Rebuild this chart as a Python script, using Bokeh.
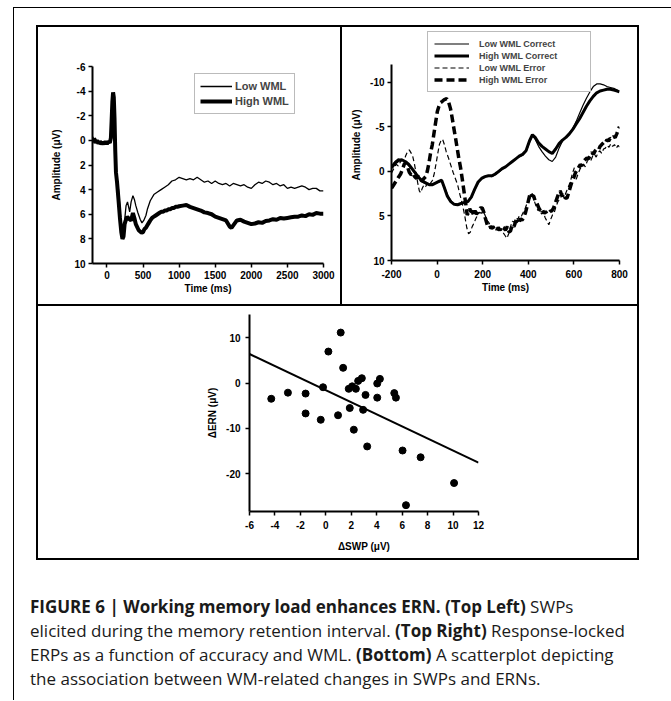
from bokeh.plotting import figure
from bokeh.models import (Range1d, FixedTicker, Legend, LegendItem, Div, Spacer,
                          PrintfTickFormatter, Title)
from bokeh.layouts import column, row
from bokeh.embed import file_html
from bokeh.resources import INLINE

# ---------------- data: top-left (SWPs, stimulus-locked) ----------------
tl_low_t = [-200, -180, -160, -140, -120, -100, -80, -60, -40, -20, 0, 20, 40, 55, 65, 75, 85, 95, 105, 115,
            125, 140, 160, 180, 200, 215, 230, 245, 265, 285, 300, 315, 335, 360, 380, 400, 430, 460, 485, 510,
            540, 560, 600, 650, 700, 750, 800, 850, 900, 950, 1000, 1050, 1100, 1150, 1200, 1250, 1300, 1350,
            1400, 1450, 1500, 1550, 1600, 1650, 1700, 1750, 1800, 1850, 1900, 1950, 2000, 2050, 2100, 2150,
            2200, 2250, 2300, 2350, 2400, 2450, 2500, 2550, 2600, 2650, 2700, 2750, 2800, 2850, 2900, 2950, 3000]
tl_low_v = [-0.3, -0.1, -0.2, 0.1, 0.0, 0.15, 0.05, 0.2, 0.1, 0.25, 0.1, 0.2, 0.0, -0.3, -1.5, -3.0, -3.8, -3.6, -2.0, 0.5,
            2.2, 3.0, 4.0, 5.5, 7.0, 7.8, 7.7, 6.5, 5.3, 5.0, 5.4, 5.8, 5.0, 4.5, 4.8, 5.3, 5.9, 6.4, 6.7, 6.5,
            6.1, 5.6, 4.9, 4.4, 4.2, 4.0, 3.8, 3.6, 3.3, 3.2, 3.0, 3.1, 3.2, 3.1, 3.2, 3.0, 3.2, 3.4,
            3.3, 3.5, 3.3, 3.5, 3.6, 3.5, 3.7, 3.5, 3.6, 3.7, 3.6, 3.8, 3.9, 3.6, 3.4, 3.5,
            3.3, 3.4, 3.6, 3.5, 3.7, 3.6, 3.9, 3.8, 3.9, 3.8, 3.7, 3.8, 4.0, 3.9, 3.9, 4.1, 4.1]
tl_high_t = [-200, -180, -160, -140, -120, -100, -80, -60, -40, -20, 0, 20, 40, 55, 65, 75, 85, 95, 105, 115,
             125, 140, 160, 180, 200, 215, 230, 245, 260, 280, 310, 335, 360, 380, 400, 440, 480, 500, 520, 540,
             560, 580, 600, 625, 650, 675, 700, 725, 750, 775, 800, 825, 850, 875, 900, 925, 950, 975, 1000,
             1050, 1100, 1150, 1200, 1250, 1300, 1350, 1400, 1450, 1500, 1550, 1600, 1650, 1700, 1725, 1750,
             1800, 1850, 1900, 1950, 2000, 2050, 2100, 2150, 2200, 2250, 2300, 2350, 2400, 2450, 2500, 2550,
             2600, 2650, 2700, 2750, 2800, 2850, 2900, 2950, 3000]
tl_high_v = [0.1, -0.1, 0.2, 0.0, 0.25, 0.1, 0.3, 0.15, 0.3, 0.1, 0.3, 0.1, 0.2, -0.2, -1.6, -3.1, -3.9, -3.5, -1.8, 0.8,
             2.6, 3.4, 4.8, 6.3, 7.5, 8.0, 7.8, 6.8, 6.5, 6.2, 6.4, 6.5, 5.9, 6.3, 6.8, 7.3, 7.5, 7.45, 7.2, 7.1,
             6.9, 6.7, 6.5, 6.3, 6.2, 6.1, 6.0, 5.9, 5.8, 5.8, 5.7, 5.7, 5.6, 5.6, 5.5, 5.5, 5.4, 5.4, 5.35,
             5.3, 5.25, 5.4, 5.5, 5.6, 5.7, 5.85, 5.9, 6.0, 6.2, 6.3, 6.4, 6.5, 7.0, 7.1, 6.9,
             6.5, 6.45, 6.6, 6.7, 6.8, 6.75, 6.65, 6.7, 6.55, 6.5, 6.4, 6.45, 6.3, 6.35, 6.3, 6.25,
             6.2, 6.2, 6.1, 6.15, 6.0, 6.05, 5.9, 5.95, 5.95]

# ---------------- data: top-right (response-locked ERPs) ----------------
tr_c_t = [-200, -185, -170, -155, -140, -125, -110, -95, -80, -65, -50, -35, -20, -5, 10, 20, 30, 45, 60, 75,
          90, 105, 120, 135, 150, 165, 180, 195, 210, 225, 240, 255, 270, 285, 300, 315, 330, 345, 360, 375,
          390, 405, 418, 430, 445, 460, 475, 490, 505, 520, 535, 550, 565, 580, 595, 610, 625, 640, 655, 670,
          685, 700, 715, 730, 745, 760, 775, 790, 800]
tr_low_correct = [-0.6, -1.1, -1.4, -1.3, -1.0, -0.6, -0.2, 0.3, 0.8, 1.2, 1.4, 1.5, 1.4, 1.3, 1.2, 1.1, 1.6, 2.6, 3.3, 3.7,
                  3.8, 3.7, 3.5, 3.4, 3.0, 2.1, 1.3, 0.8, 0.6, 0.5, 0.6, 0.4, 0.1, -0.2, -0.5, -0.8, -1.1, -1.4, -1.6, -1.8,
                  -2.2, -3.2, -4.0, -3.6, -2.8, -2.2, -1.7, -1.3, -1.1, -1.6, -2.6, -3.4, -3.9, -4.3, -4.8, -5.6, -6.5, -7.4, -8.2, -8.9,
                  -9.5, -9.8, -9.8, -9.7, -9.5, -9.4, -9.3, -9.1, -9.0]
tr_high_correct = [-0.4, -0.9, -1.2, -1.3, -1.1, -0.8, -0.3, 0.2, 0.7, 1.1, 1.3, 1.5, 1.5, 1.3, 1.1, 1.0, 1.7, 2.8, 3.4, 3.7,
                   3.75, 3.6, 3.5, 3.4, 2.9, 2.0, 1.2, 0.8, 0.6, 0.5, 0.5, 0.3, 0.0, -0.3, -0.5, -0.8, -1.1, -1.4, -1.7, -1.9,
                   -2.3, -3.4, -4.1, -3.8, -3.2, -2.8, -2.5, -2.2, -2.0, -2.5, -3.1, -3.5, -3.8, -4.2, -4.7, -5.3, -5.9, -6.6, -7.3, -7.9,
                   -8.4, -8.8, -9.0, -9.1, -9.2, -9.2, -9.1, -9.0, -8.9]
tr_le_t = [-200, -190, -180, -170, -160, -150, -140, -130, -122, -115, -108, -100, -92, -85, -78, -72, -65, -57, -50, -43,
           -35, -28, -20, -12, -5, 3, 10, 18, 24, 32, 40, 50, 60, 70, 80, 90, 100, 110, 120, 130,
           138, 146, 154, 162, 170, 178, 186, 194, 202, 210, 218, 226, 234, 242, 250, 258, 266, 274, 282, 290,
           298, 306, 314, 322, 330, 338, 346, 354, 362, 370, 378, 386, 394, 402, 410, 418, 426, 434, 442, 450,
           458, 466, 474, 482, 490, 498, 506, 514, 522, 530, 538, 546, 554, 562, 570, 578, 586, 594, 602, 610,
           618, 626, 634, 642, 650, 658, 666, 674, 682, 690, 698, 706, 714, 722, 730, 738, 746, 754, 762, 770,
           778, 786, 794, 800]
tr_low_error = [0.2, -0.3, -0.8, -0.6, -1.1, -1.3, -1.6, -2.2, -2.4, -2.1, -1.8, -0.9, 0.2, 1.3, 2.2, 2.4, 1.9, 1.5, 1.7, 1.4,
                1.6, 1.3, 1.0, 0.2, -0.8, -2.0, -3.0, -3.5, -3.6, -3.0, -2.2, -1.5, -0.7, 0.1, 0.8, 1.5, 2.6, 3.6, 4.8, 6.3,
                7.0, 6.8, 6.2, 5.8, 5.3, 4.9, 4.6, 4.7, 4.5, 4.9, 5.5, 5.7, 6.1, 6.4, 6.2, 6.6, 6.3, 6.7, 6.4, 6.9,
                7.2, 7.5, 7.0, 6.2, 5.6, 5.7, 5.2, 5.4, 4.9, 5.0, 4.6, 4.2, 3.6, 3.3, 2.9, 2.6, 3.3, 3.9, 4.4, 4.2,
                4.8, 4.6, 5.2, 5.6, 6.0, 5.4, 4.9, 4.6, 3.9, 3.4, 3.1, 2.8, 2.4, 2.6, 2.1, 1.6, 1.0, 0.2, -0.4, 0.9,
                0.3, -0.2, -0.6, -0.8, -0.5, -1.1, -1.4, -1.2, -1.7, -1.9, -1.6, -2.1, -2.3, -2.0, -2.5, -2.6, -2.9, -2.7, -3.1, -2.8,
                -3.0, -2.6, -2.9, -2.7]
tr_he_t = [-200, -190, -180, -170, -160, -152, -144, -137, -130, -122, -114, -106, -98, -90, -82, -74, -66, -58, -50, -43,
           -36, -29, -21, -14, -7, 1, 8, 15, 23, 32, 42, 50, 59, 66, 73, 81, 88, 95, 103, 110,
           116, 121, 127, 132, 138, 143, 148, 154, 160, 166, 172, 178, 184, 190, 198, 205, 212, 220, 228, 236,
           244, 252, 260, 268, 276, 284, 293, 300, 308, 315, 322, 330, 337, 344, 351, 358, 365, 372, 380, 388,
           396, 403, 409, 416, 424, 431, 438, 446, 453, 460, 468, 475, 482, 489, 496, 504, 511, 518, 526, 533,
           540, 548, 555, 562, 570, 577, 584, 591, 599, 606, 613, 620, 628, 635, 642, 649, 657, 664, 671, 678,
           686, 693, 700, 708, 715, 722, 730, 737, 745, 752, 759, 766, 774, 781, 788, 794, 800]
tr_high_error = [1.9, 1.5, 1.1, 0.7, 0.3, -0.2, -0.8, -1.0, -0.5, 0.1, 0.4, 0.2, 0.6, 0.8, 0.5, 0.9, 1.1, 0.8, 0.6, 0.0,
                 -0.9, -2.0, -3.0, -4.2, -5.4, -6.7, -7.3, -7.7, -7.85, -8.05, -8.15, -7.8, -7.0, -6.0, -4.9, -3.7, -2.6, -1.5, -0.4, 0.8,
                 1.9, 2.8, 3.9, 4.9, 4.6, 4.2, 4.5, 4.5, 4.9, 4.4, 4.8, 4.6, 4.3, 4.1, 4.1, 4.6, 5.3, 6.0, 5.9, 6.4,
                 6.2, 6.5, 6.7, 6.3, 6.6, 6.2, 6.35, 6.6, 6.2, 6.8, 6.7, 6.0, 6.2, 5.7, 5.6, 5.9, 5.3, 5.5, 5.2, 4.6,
                 3.8, 3.0, 2.4, 2.7, 2.8, 3.4, 3.6, 4.1, 4.4, 4.2, 4.7, 4.5, 4.8, 4.7, 4.5, 4.4, 4.1, 3.6, 3.0, 2.5,
                 2.2, 2.8, 2.5, 3.0, 3.0, 2.4, 1.8, 1.2, 0.75, 0.2, -0.1, -0.4, -0.75, -0.6, -1.1, -1.3, -1.5, -1.4, -1.7, -2.1,
                 -1.9, -2.3, -2.5, -2.4, -2.8, -3.0, -3.2, -3.1, -3.55, -3.4, -3.7, -3.6, -3.9, -3.8, -4.2, -4.6, -5.0]

# ---------------- data: bottom (scatter) ----------------
d_swp = [-4.29, -2.98, -1.59, -1.59, -0.40, -0.22, 0.20, 0.96, 1.17, 1.36, 1.80, 1.88, 2.07, 2.20, 2.36,
         2.54, 2.83, 2.93, 3.12, 3.25, 4.04, 4.04, 4.25, 5.38, 5.51, 6.03, 6.30, 7.45, 10.08]
d_ern = [-3.45, -2.1, -2.3, -6.7, -8.1, -0.9, 7.0, -7.1, 11.2, 3.4, -1.25, -5.5, -0.7, -10.3, -1.25,
         0.5, 1.1, -5.9, -2.6, -14.0, -0.07, -3.2, 0.95, -2.2, -3.2, -14.9, -27.0, -16.4, -22.1]
fit_x = [-6, 12]
fit_y = [6.46, -17.6]

tl_xticks = [0, 500, 1000, 1500, 2000, 2500, 3000]
tl_yticks = [-6, -4, -2, 0, 2, 4, 6, 8, 10]
tr_xticks = [-200, 0, 200, 400, 600, 800]
tr_yticks = [-10, -5, 0, 5, 10]
sc_xticks = [-6, -4, -2, 0, 2, 4, 6, 8, 10, 12]
sc_yticks = [-20, -10, 0, 10]

FONT = "Liberation Sans"


def style(p, xticks, yticks, xlabel, ylabel, xstand, ystand, lstand=3):
    p.xaxis.ticker = FixedTicker(ticks=xticks)
    p.yaxis.ticker = FixedTicker(ticks=yticks)
    p.xaxis.axis_label = xlabel
    p.yaxis.axis_label = ylabel
    p.xaxis.axis_label_standoff = xstand
    p.yaxis.axis_label_standoff = ystand
    for ax in p.axis:
        ax.formatter = PrintfTickFormatter(format="%d")
        ax.axis_line_width = 2
        ax.axis_line_color = "black"
        ax.major_tick_line_width = 1.5
        ax.major_tick_in = 0
        ax.major_tick_out = 4
        ax.minor_tick_line_color = None
        ax.major_label_text_font = FONT
        ax.major_label_text_font_style = "bold"
        ax.major_label_text_font_size = "10px"
        ax.major_label_text_color = "black"
        ax.major_label_standoff = lstand
        ax.axis_label_text_font = FONT
        ax.axis_label_text_font_style = "bold"
        ax.axis_label_text_font_size = "10px"
        ax.axis_label_text_color = "black"
    p.xgrid.visible = False
    p.ygrid.visible = False
    p.outline_line_color = None
    p.background_fill_color = "white"
    p.border_fill_color = "white"
    p.frame_align = False


# ---------------- top-left ----------------
p1 = figure(width=306, height=279, x_range=Range1d(-200, 3000), y_range=Range1d(10, -6),
            output_backend="svg", toolbar_location=None,
            min_border_left=54, min_border_right=21, min_border_top=39, min_border_bottom=43,
            styles={"border-left": "2px solid black", "border-top": "2px solid black",
                    "border-right": "2px solid black"})
r_low = p1.line(tl_low_t, tl_low_v, line_color="black", line_width=1.3)
r_high = p1.line(tl_high_t, tl_high_v, line_color="black", line_width=4)
style(p1, tl_xticks, tl_yticks, "Time (ms)", "Amplitude (\u03bcV)", 1, 9)
leg1 = Legend(items=[LegendItem(label="Low WML", renderers=[r_low]),
                     LegendItem(label="High WML", renderers=[r_high])],
              location=(102, 149), border_line_color="#777777", border_line_width=1,
              label_text_font=FONT, label_text_font_style="bold", label_text_font_size="11px",
              glyph_width=32, glyph_height=14, label_standoff=3, label_height=14, spacing=1,
              padding=5, margin=0, label_width=52, background_fill_alpha=1)
p1.add_layout(leg1)

# ---------------- top-right ----------------
# frame reaches up to the legend; the axis line itself stops at -12
p2 = figure(width=297, height=279, x_range=Range1d(-200, 800), y_range=Range1d(10, -15.9),
            output_backend="svg", toolbar_location=None,
            min_border_left=48, min_border_right=20, min_border_top=2, min_border_bottom=46,
            styles={"border-top": "2px solid black", "border-right": "2px solid black"})
r_lc = p2.line(tr_c_t, tr_low_correct, line_color="black", line_width=1.2)
r_hc = p2.line(tr_c_t, tr_high_correct, line_color="black", line_width=3)
r_le = p2.line(tr_le_t, tr_low_error, line_color="black", line_width=1.2, line_dash="5 3")
r_he = p2.line(tr_he_t, tr_high_error, line_color="black", line_width=3.5, line_dash="8 4")
style(p2, tr_xticks, tr_yticks, "Time (ms)", None, 1, 10)
p2.xaxis.major_label_standoff = 5
p2.yaxis.bounds = (-12, 10)
p2.add_layout(Title(text="Amplitude (\u03bcV)", align="center", offset=-17, standoff=12,
                    text_font=FONT, text_font_style="bold", text_font_size="10px",
                    text_color="black"), "left")
leg2 = Legend(items=[LegendItem(label="Low WML Correct", renderers=[r_lc]),
                     LegendItem(label="High WML Correct", renderers=[r_hc]),
                     LegendItem(label="Low WML Error", renderers=[r_le]),
                     LegendItem(label="High WML Error", renderers=[r_he])],
              location=(36, 168), border_line_color="#777777", border_line_width=1,
              label_text_font=FONT, label_text_font_style="bold", label_text_font_size="9px",
              glyph_width=35, glyph_height=11, label_standoff=10, label_height=11, spacing=1,
              padding=6, margin=0, label_width=105, background_fill_alpha=1)
p2.add_layout(leg2)

# ---------------- bottom scatter ----------------
p3 = figure(width=603, height=256, x_range=Range1d(-6, 12), y_range=Range1d(-28.4, 15.2),
            output_backend="svg", toolbar_location=None,
            min_border_left=211, min_border_right=163, min_border_top=8, min_border_bottom=51,
            styles={"border": "2px solid black"})
p3.line(fit_x, fit_y, line_color="black", line_width=2)
p3.scatter(d_swp, d_ern, size=7, color="black")
style(p3, sc_xticks, sc_yticks, "\u0394SWP (\u03bcV)", "\u0394ERN (\u03bcV)", 9, 5, lstand=5)

caption = Div(text=("<b>FIGURE 6 | Working memory load enhances ERN. (Top Left)</b> SWPs<br>"
                    "elicited during the memory retention interval. <b>(Top Right)</b> Response-locked<br>"
                    "ERPs as a function of accuracy and WML. <b>(Bottom)</b> A scatterplot depicting<br>"
                    "the association between WM-related changes in SWPs and ERNs."),
              width=645, height=100,
              styles={"font-family": "Open Sans", "font-size": "17px", "line-height": "24px",
                      "color": "#1a1a1a", "white-space": "nowrap"})

inner = column(row(p1, p2, spacing=0), p3, spacing=0)
outer = column(Spacer(height=17),
               row(Spacer(width=22), inner, spacing=0),
               Spacer(height=30),
               row(Spacer(width=11), caption, spacing=0),
               spacing=0,
               styles={"border-left": "1px solid black", "border-top": "1px solid black",
                       "border-right": "1px solid black"})
root = column(Spacer(height=7), row(Spacer(width=13), outer, spacing=0), spacing=0)

open("out.html", "w").write(file_html(root, INLINE))
